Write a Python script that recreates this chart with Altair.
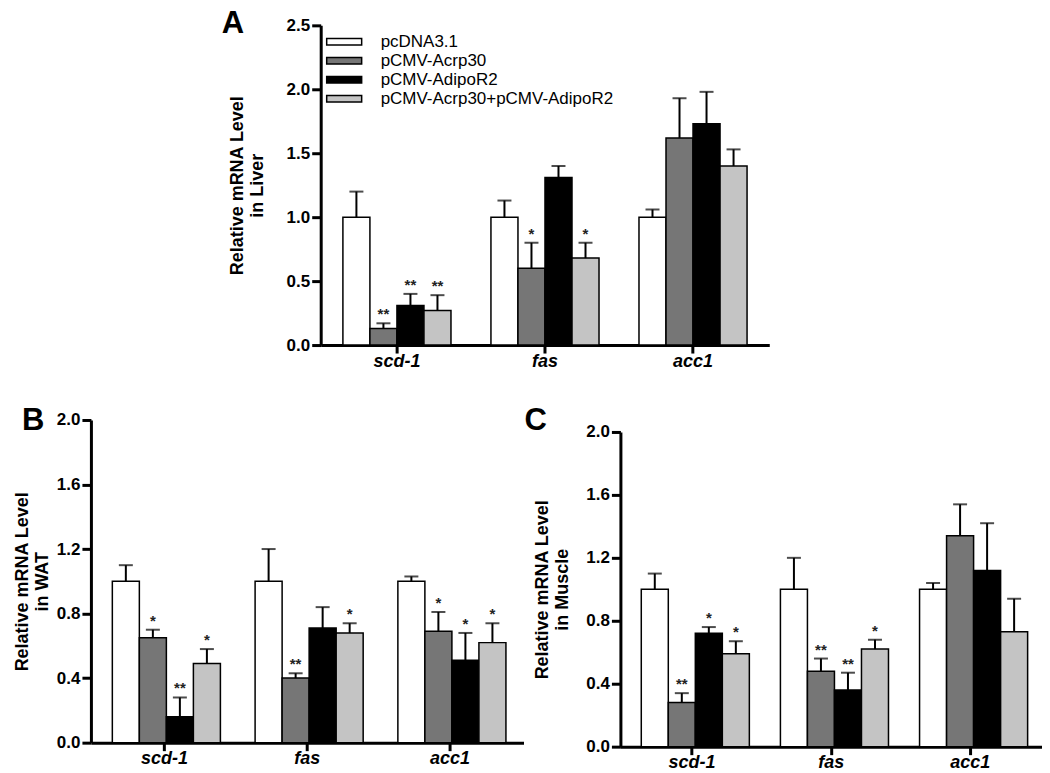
import altair as alt
import pandas as pd

genes = ["scd-1", "fas", "acc1"]
groups = ["pcDNA3.1", "pCMV-Acrp30", "pCMV-AdipoR2", "pCMV-Acrp30+pCMV-AdipoR2"]
colors = ["#ffffff", "#767676", "#000000", "#c4c4c4"]

# Panel A - Liver
liver_mean = [[1.00, 0.13, 0.31, 0.27], [1.00, 0.60, 1.31, 0.68], [1.00, 1.62, 1.73, 1.40]]
liver_upper = [[1.20, 0.17, 0.40, 0.39], [1.13, 0.80, 1.40, 0.80], [1.06, 1.93, 1.98, 1.53]]
liver_sig = [["", "**", "**", "**"], ["", "*", "", "*"], ["", "", "", ""]]

# Panel B - WAT
wat_mean = [[1.00, 0.65, 0.16, 0.49], [1.00, 0.40, 0.71, 0.68], [1.00, 0.69, 0.51, 0.62]]
wat_upper = [[1.10, 0.70, 0.28, 0.58], [1.20, 0.43, 0.84, 0.74], [1.03, 0.81, 0.68, 0.74]]
wat_sig = [["", "*", "**", "*"], ["", "**", "", "*"], ["", "*", "*", "*"]]

# Panel C - Muscle
muscle_mean = [[1.00, 0.28, 0.72, 0.59], [1.00, 0.48, 0.36, 0.62], [1.00, 1.34, 1.12, 0.73]]
muscle_upper = [[1.10, 0.34, 0.76, 0.67], [1.20, 0.56, 0.47, 0.68], [1.04, 1.54, 1.42, 0.94]]
muscle_sig = [["", "**", "*", "*"], ["", "**", "**", "*"], ["", "", "", ""]]

panel_letters = ["A", "B", "C"]

FONT = "Liberation Sans"


def frame(mean, upper, sig):
    rows = []
    for gi, g in enumerate(genes):
        for ki, k in enumerate(groups):
            rows.append({"gene": g, "group": k, "mean": mean[gi][ki],
                         "upper": upper[gi][ki], "sig": sig[gi][ki]})
    return pd.DataFrame(rows)


def letter_layer(letter, lx, ly):
    return alt.Chart(pd.DataFrame({"t": [letter]})).mark_text(
        fontSize=31, fontWeight="bold", font=FONT, align="left", baseline="top", color="black"
    ).encode(x=alt.value(lx), y=alt.value(ly), text="t:N")


def panel(df, ymax, ticks, title, width, height, letters, legend=None, tpad=12):
    x = alt.X("gene:N", sort=genes,
              scale=alt.Scale(paddingInner=0.27, paddingOuter=0.15),
              axis=alt.Axis(title=None, labelAngle=0, labelFontStyle="italic",
                            labelFontWeight="bold", labelFontSize=18, labelFont=FONT,
                            labelColor="black", domainColor="black", domainWidth=3,
                            tickColor="black", tickWidth=3, tickSize=8, labelPadding=-1))
    xo = alt.XOffset("group:N", sort=groups, scale=alt.Scale(paddingInner=0, paddingOuter=0))
    yscale = alt.Scale(domain=[0, ymax], nice=False)
    y = alt.Y("mean:Q", scale=yscale,
              axis=alt.Axis(values=ticks, format=".1f", title=title, grid=False,
                            titleFontSize=18, titleFontWeight="bold", titleFont=FONT,
                            titleColor="black", titlePadding=tpad, titleLineHeight=20,
                            labelFontSize=17, labelFontWeight="bold", labelFont=FONT,
                            labelColor="black", domainColor="black", domainWidth=3,
                            tickColor="black", tickWidth=3, tickSize=9, labelPadding=2))
    base = alt.Chart(df)
    color = alt.Color("group:N", sort=groups,
                      scale=alt.Scale(domain=groups, range=colors),
                      legend=legend)
    bars = base.mark_bar(stroke="black", strokeWidth=1.5).encode(x=x, xOffset=xo, y=y, color=color)
    err = base.mark_rule(color="black", strokeWidth=2).encode(
        x=x, xOffset=xo, y=alt.Y("mean:Q", scale=yscale), y2="upper:Q")
    cap = base.mark_tick(color="black", thickness=2, size=14).encode(
        x=x, xOffset=xo, y=alt.Y("upper:Q", scale=yscale))
    stars = base.mark_text(dy=-9, fontSize=15, fontWeight="bold", font=FONT, color="#222").encode(
        x=x, xOffset=xo, y=alt.Y("upper:Q", scale=yscale), text="sig:N")
    layers = [bars, err, cap, stars] + [letter_layer(t, lx, ly) for t, lx, ly in letters]
    return alt.layer(*layers).properties(width=width, height=height)


legA = alt.Legend(title=None, orient="none", legendX=15, legendY=8,
                  symbolType="M-3.5,-0.65L3.5,-0.65L3.5,0.65L-3.5,0.65Z", symbolSize=100,
                  symbolStrokeColor="black", symbolStrokeWidth=1.5, symbolOpacity=1,
                  labelFontSize=17, labelFont=FONT, labelColor="black", labelLimit=0,
                  labelOffset=28, rowPadding=1)

A = panel(frame(liver_mean, liver_upper, liver_sig), 2.5, [0, 0.5, 1.0, 1.5, 2.0, 2.5],
          ["Relative mRNA Level", "in Liver"], 449, 320, [(panel_letters[0], -99, -16)],
          legA, tpad=20)
# panel C's letter is drawn from B's layer so that C's plot can sit a little lower
B = panel(frame(wat_mean, wat_upper, wat_sig), 2.0, [0, 0.4, 0.8, 1.2, 1.6, 2.0],
          ["Relative mRNA Level", "in WAT"], 433, 323,
          [(panel_letters[1], -69, -14), (panel_letters[2], 434, -14)], tpad=5)
C = panel(frame(muscle_mean, muscle_upper, muscle_sig), 2.0, [0, 0.4, 0.8, 1.2, 1.6, 2.0],
          ["Relative mRNA Level", "in Muscle"], 422, 315, [], tpad=14)


def spacer(w, h):
    return alt.Chart(pd.DataFrame({"v": [0]})).mark_point(opacity=0).encode(
        x=alt.value(0), y=alt.value(0)).properties(width=w, height=h)


top = alt.hconcat(spacer(131, 10), A, spacing=0).resolve_scale(color="independent")
right = alt.vconcat(spacer(1, 1), C, spacing=0).resolve_scale(color="independent")
bottom = alt.hconcat(B, right, spacing=-14).resolve_scale(color="independent")

chart = alt.vconcat(top, bottom, spacing=35).resolve_scale(color="independent").properties(
    padding={"left": 5, "top": 0, "right": 0, "bottom": 0}
).configure(font=FONT).configure_view(strokeWidth=0)

chart.save("out.html", embed_options={"renderer": "svg", "actions": False})
